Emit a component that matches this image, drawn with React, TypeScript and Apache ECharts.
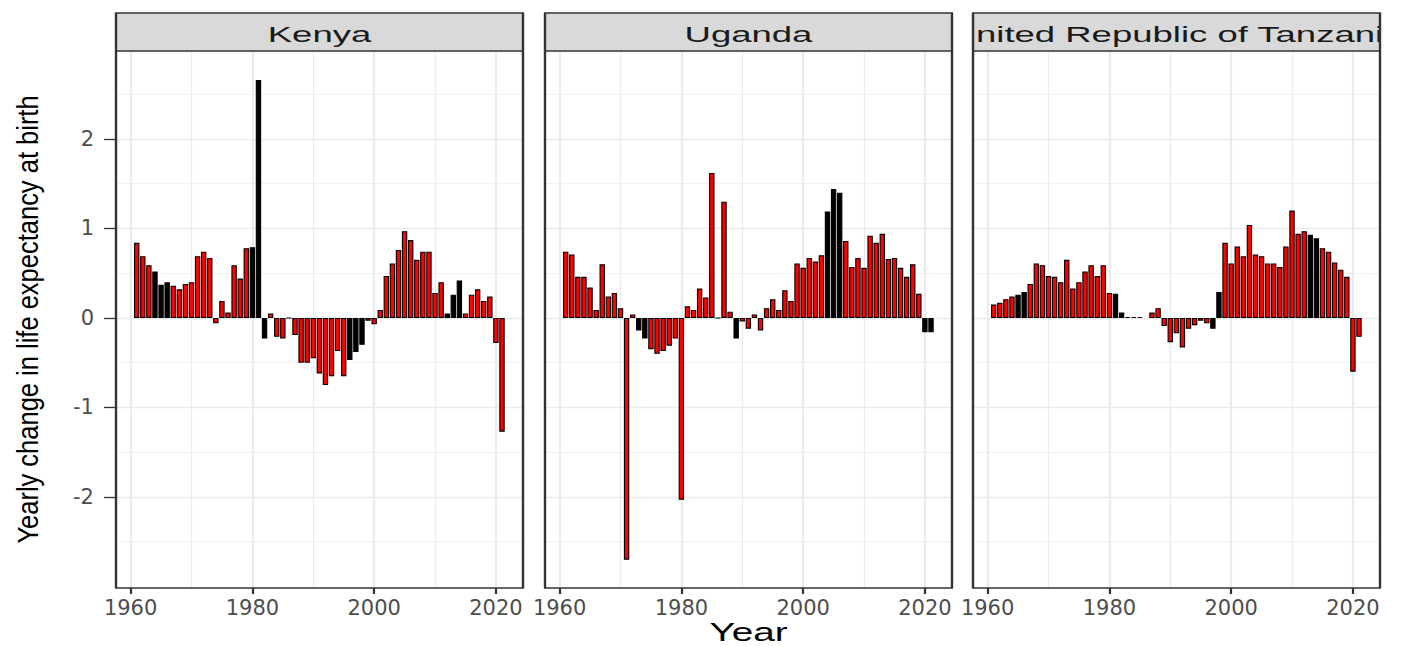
import React, { useEffect, useRef } from 'react';
import * as echarts from 'echarts';

const firstYear = 1961;
const countries = ['Kenya', 'Uganda', 'United Republic of Tanzania'];

const kenyaValues = [
  0.84, 0.69, 0.59, 0.52, 0.37, 0.40, 0.36, 0.32, 0.38, 0.40,
  0.69, 0.74, 0.67, -0.06, 0.19, 0.06, 0.59, 0.44, 0.78, 0.79,
  2.66, -0.23, 0.05, -0.21, -0.23, 0, -0.19, -0.50, -0.50, -0.45,
  -0.62, -0.75, -0.65, -0.37, -0.65, -0.47, -0.38, -0.30, -0.03, -0.07,
  0.09, 0.47, 0.61, 0.76, 0.97, 0.87, 0.65, 0.74, 0.74, 0.28,
  0.40, 0.05, 0.26, 0.42, 0.05, 0.26, 0.32, 0.19, 0.24, -0.28,
  -1.27,
];
const ugandaValues = [
  0.74, 0.71, 0.46, 0.46, 0.34, 0.09, 0.60, 0.24, 0.28, 0.11,
  -2.70, 0.04, -0.14, -0.23, -0.35, -0.40, -0.37, -0.31, -0.23, -2.03,
  0.13, 0.09, 0.33, 0.23, 1.62, 0, 1.30, 0.07, -0.23, -0.04,
  -0.12, 0.04, -0.14, 0.11, 0.21, 0.09, 0.31, 0.19, 0.61, 0.56,
  0.67, 0.63, 0.70, 1.19, 1.44, 1.40, 0.86, 0.57, 0.67, 0.56,
  0.92, 0.84, 0.94, 0.66, 0.67, 0.56, 0.46, 0.60, 0.27, -0.16,
  -0.16,
];
const tanzaniaValues = [
  0.15, 0.17, 0.21, 0.24, 0.26, 0.29, 0.38, 0.61, 0.59, 0.47,
  0.46, 0.40, 0.65, 0.33, 0.40, 0.52, 0.59, 0.47, 0.59, 0.28,
  0.27, 0.06, 0.01, 0.01, 0.01, null, 0.06, 0.11, -0.09, -0.27,
  -0.17, -0.33, -0.12, -0.08, -0.03, -0.06, -0.12, 0.29, 0.84, 0.61,
  0.80, 0.69, 1.04, 0.71, 0.69, 0.61, 0.61, 0.57, 0.80, 1.20,
  0.94, 0.97, 0.93, 0.89, 0.78, 0.74, 0.62, 0.54, 0.46, -0.60,
  -0.21,
];

// bars that render as solid black in the reference
const kenyaDark = [1964, 1965, 1966, 1980, 1981, 1982, 1996, 1997, 1998, 2012, 2013, 2014];
const ugandaDark = [1973, 1974, 1989, 2004, 2005, 2006, 2020, 2021];
const tanzaniaDark = [1965, 1966, 1981, 1982, 1997, 1998, 2013, 2014];

const xTicks = [1960, 1980, 2000, 2020];
const xMinorTicks = [1970, 1990, 2010];
const yTicks = [-2, -1, 0, 1, 2];
const yMinorTicks = [-2.5, -1.5, -0.5, 0.5, 1.5, 2.5];

const seriesValues = [kenyaValues, ugandaValues, tanzaniaValues];
const seriesDark = [kenyaDark, ugandaDark, tanzaniaDark];

export default function App() {
  const ref = useRef<HTMLDivElement>(null);

  useEffect(() => {
    const chart = echarts.init(ref.current as HTMLDivElement, null, { renderer: 'svg' });
    const lefts = [116, 545, 973];
    const W = 407;
    const STRIP_TOP = 13;
    const TOP = 51;
    const BOT = 588;
    const xMin = 1957.6;
    const xMax = 2024.45;
    const yMin = -3.017;
    const yMax = 2.983;
    const labelFont = { color: '#4d4d4d', fontFamily: 'DejaVu Sans', fontSize: 21 };

    const grid = lefts.map((l) => ({ left: l, top: TOP, width: W, height: BOT - TOP, show: false }));

    const xAxis: any[] = [
      ...lefts.map((_, i) => ({
        type: 'value', gridIndex: i, min: xMin, max: xMax, position: 'bottom',
        axisLine: { show: false, onZero: false },
        axisTick: { show: true, customValues: xTicks, length: 6, lineStyle: { color: '#333333', width: 2.2 } },
        axisLabel: { show: true, customValues: xTicks, margin: 9, formatter: (v: number) => String(v), ...labelFont },
        splitLine: { show: true, lineStyle: { color: '#ebebeb', width: 2.2 } },
      })),
      ...lefts.map((_, i) => ({
        type: 'value', gridIndex: i, min: xMin, max: xMax, position: 'top',
        axisLine: { show: false, onZero: false },
        axisTick: { show: false, customValues: xMinorTicks },
        axisLabel: { show: false },
        splitLine: { show: true, lineStyle: { color: '#ebebeb', width: 1.2 } },
      })),
    ];

    const yAxis: any[] = [
      ...lefts.map((_, i) => ({
        type: 'value', gridIndex: i, min: yMin, max: yMax, position: 'left',
        axisLine: { show: false, onZero: false },
        axisTick: { show: i === 0, customValues: yTicks, length: 12, lineStyle: { color: '#333333', width: 1.3 } },
        axisLabel: { show: i === 0, customValues: yTicks, margin: 22, formatter: (v: number) => String(v), ...labelFont },
        splitLine: { show: true, lineStyle: { color: '#ebebeb', width: 1.3 } },
      })),
      ...lefts.map((_, i) => ({
        type: 'value', gridIndex: i, min: yMin, max: yMax, position: 'right',
        axisLine: { show: false, onZero: false },
        axisTick: { show: false, customValues: yMinorTicks },
        axisLabel: { show: false },
        splitLine: { show: true, lineStyle: { color: '#ebebeb', width: 0.7 } },
      })),
    ];

    const series = seriesValues.map((vals, i) => ({
      type: 'bar',
      xAxisIndex: i,
      yAxisIndex: i,
      barWidth: 5.4,
      itemStyle: { color: '#ff0000', borderColor: '#000000', borderWidth: 1.1 },
      data: vals
        .map((v, j) => {
          const yr = firstYear + j;
          if (v === null) return null;
          const item: any = { value: [yr, v] };
          if (seriesDark[i].includes(yr)) item.itemStyle = { color: '#000000' };
          return item;
        })
        .filter((d) => d !== null),
    }));

    const graphic: any[] = [];
    lefts.forEach((l, i) => {
      graphic.push({
        type: 'rect', z: 1,
        shape: { x: l, y: STRIP_TOP, width: W, height: TOP - STRIP_TOP },
        style: { fill: '#d9d9d9' },
      });
      graphic.push({
        type: 'text', z: 2, x: l + W / 2, y: 34.5, scaleX: 1.66,
        style: {
          text: countries[i], font: '22px "Liberation Sans"', fill: '#1a1a1a',
          align: 'center', verticalAlign: 'middle',
        },
      });
    });
    // hide strip text overflowing its box
    graphic.push({ type: 'rect', z: 3, shape: { x: lefts[1] + W + 1, y: 8, width: lefts[2] - lefts[1] - W - 2, height: 46 }, style: { fill: '#ffffff' } });
    graphic.push({ type: 'rect', z: 3, shape: { x: lefts[2] + W + 1, y: 8, width: 40, height: 46 }, style: { fill: '#ffffff' } });
    lefts.forEach((l) => {
      [STRIP_TOP, TOP, BOT].forEach((yy) => {
        graphic.push({ type: 'line', z: 10, shape: { x1: l - 1, y1: yy, x2: l + W + 1, y2: yy }, style: { stroke: '#333333', lineWidth: 1.4 } });
      });
      [l, l + W].forEach((xx) => {
        graphic.push({ type: 'line', z: 10, shape: { x1: xx, y1: STRIP_TOP, x2: xx, y2: BOT }, style: { stroke: '#333333', lineWidth: 2.4 } });
      });
    });
    graphic.push({
      type: 'text', z: 5, x: 28, y: (TOP + BOT) / 2, rotation: Math.PI / 2, scaleY: 1.15,
      style: {
        text: 'Yearly change in life expectancy at birth', font: '25.5px "Liberation Sans"', fill: '#000000',
        align: 'center', verticalAlign: 'middle',
      },
    });
    graphic.push({
      type: 'text', z: 5, x: lefts[1] + W / 2, y: 632, scaleX: 1.55,
      style: { text: 'Year', font: '25px "Liberation Sans"', fill: '#000000', align: 'center', verticalAlign: 'middle' },
    });

    chart.setOption({
      animation: false,
      backgroundColor: '#ffffff',
      grid,
      xAxis,
      yAxis,
      series,
      graphic,
    });
    return () => chart.dispose();
  }, []);

  return (
    <div
      ref={ref}
      style={{ position: 'absolute', left: 0, top: 0, width: 1405, height: 646 }}
    />
  );
}
